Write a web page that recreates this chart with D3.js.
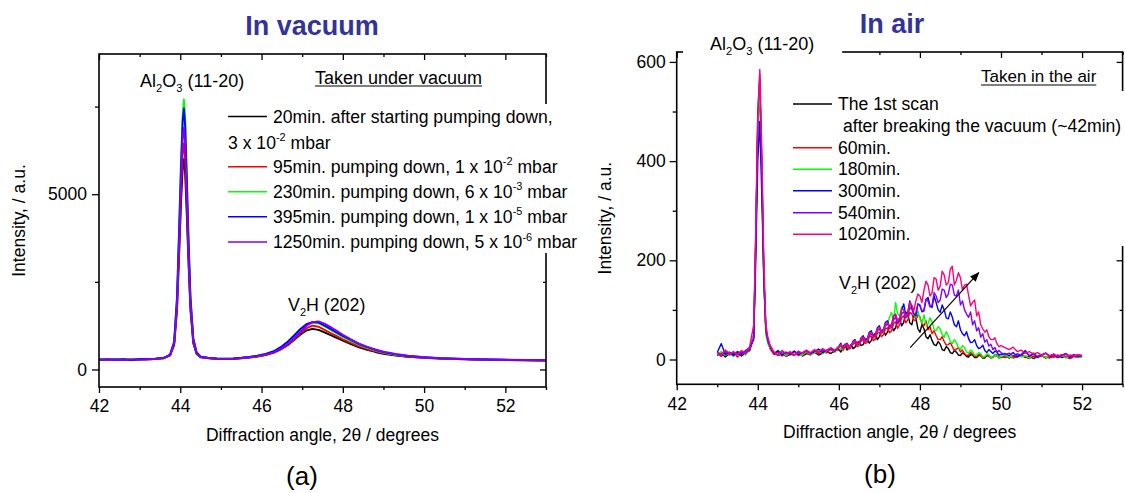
<!DOCTYPE html>
<html>
<head>
<meta charset="utf-8">
<script src="https://cdn.jsdelivr.net/npm/d3@7"></script>
<style>
  body { margin: 0; background: #fff; }
  svg text { font-family: "Liberation Sans", Arial, sans-serif; fill: #000; }
</style>
</head>
<body>
<div id="chart"></div>
<script>
// ---- (a) in vacuum: angle grid and intensities ----
const vacAngles = [42.0, 42.2, 42.4, 42.6, 42.8, 43.0, 43.2, 43.4, 43.6, 43.75,
  43.85, 43.92, 43.97, 44.02, 44.06, 44.09, 44.12, 44.16, 44.2, 44.25, 44.32,
  44.4, 44.5, 44.7, 44.9, 45.1, 45.3, 45.5, 45.7, 45.9,
  46.1, 46.3, 46.5, 46.65, 46.8, 46.95, 47.1, 47.25, 47.4, 47.55,
  47.7, 47.85, 48.0, 48.2, 48.4, 48.6, 48.8, 49.0, 49.3, 49.6,
  50.0, 50.4, 50.8, 51.2, 51.6, 52.0, 52.5, 53.0];
const vac20 = [290, 275, 285, 270, 280, 285, 290, 300, 320, 400,
  700, 1700, 3200, 4800, 5750, 6000, 5600, 4400, 3100, 1700, 750,
  450, 350, 320, 300, 295, 300, 320, 340, 370,
  410, 480, 590, 700, 840, 990, 1110, 1160, 1130, 1060,
  980, 900, 820, 720, 630, 560, 500, 450, 400, 360,
  330, 310, 295, 285, 275, 270, 262, 255];
const vac95 = [280, 290, 270, 285, 275, 290, 285, 305, 325, 410,
  740, 1800, 3450, 5150, 6200, 6450, 6000, 4700, 3300, 1800, 780,
  460, 355, 325, 305, 300, 305, 325, 345, 375,
  420, 490, 600, 710, 860, 1030, 1170, 1250, 1220, 1130,
  1040, 950, 860, 760, 660, 585, 520, 465, 410, 370,
  335, 312, 298, 288, 278, 272, 265, 258];
const vac230 = [285, 270, 295, 280, 290, 275, 295, 305, 330, 420,
  800, 2100, 4000, 6000, 7300, 7700, 7150, 5600, 3900, 2100, 900,
  500, 370, 330, 310, 305, 310, 330, 355, 390,
  440, 510, 640, 780, 950, 1130, 1270, 1340, 1320, 1230,
  1130, 1030, 930, 810, 700, 615, 545, 485, 420, 380,
  345, 318, 302, 290, 282, 275, 268, 260];
const vac395 = [275, 285, 280, 290, 270, 290, 300, 310, 335, 425,
  790, 2050, 3900, 5850, 7100, 7450, 6950, 5450, 3800, 2050, 880,
  490, 365, 330, 312, 305, 312, 333, 360, 395,
  445, 520, 660, 800, 970, 1150, 1290, 1350, 1340, 1260,
  1160, 1060, 960, 840, 725, 635, 560, 495, 430, 385,
  348, 320, 304, 292, 283, 276, 269, 262];
const vac1250 = [280, 280, 285, 275, 285, 280, 295, 305, 330, 415,
  760, 1900, 3650, 5450, 6600, 6900, 6450, 5050, 3550, 1950, 840,
  475, 360, 328, 308, 302, 308, 328, 350, 382,
  430, 490, 610, 730, 890, 1070, 1240, 1350, 1370, 1310,
  1210, 1100, 990, 860, 740, 645, 570, 505, 440, 390,
  350, 322, 305, 293, 284, 277, 270, 263];
const vacColors = ["#000000", "#ff0000", "#00ff00", "#0000ff", "#8000ff"];
const vacLabels = [
  [["20min. after starting pumping down,"]],
  [["95min. pumping down, 1 x 10"], ["-2", "sup"], [" mbar"]],
  [["230min. pumping down, 6 x 10"], ["-3", "sup"], [" mbar"]],
  [["395min. pumping down, 1 x 10"], ["-5", "sup"], [" mbar"]],
  [["1250min. pumping down, 5 x 10"], ["-6", "sup"], [" mbar"]]
];
const vacFirstExtra = [["3 x 10"], ["-2", "sup"], [" mbar"]];
const vacYMajor = [0, 5000];
const vacYMinor = [2500, 7500];

// ---- (b) in air ----
const airAngles = [43.0, 43.1, 43.2, 43.3, 43.4, 43.5, 43.6, 43.7, 43.8,
  43.9, 43.95, 44.0, 44.05, 44.1, 44.15, 44.2, 44.25, 44.3,
  44.4, 44.5, 44.6, 44.7, 44.8, 44.9, 45.0, 45.1, 45.2, 45.3, 45.4, 45.5, 45.6, 45.7, 45.8, 45.9,
  46.0, 46.05, 46.1, 46.15, 46.2, 46.25, 46.3, 46.35, 46.4, 46.45,
  46.5, 46.55, 46.6, 46.65, 46.7, 46.75, 46.8, 46.85, 46.9, 46.95,
  47.0, 47.05, 47.1, 47.15, 47.2, 47.25, 47.3, 47.35, 47.4, 47.45,
  47.5, 47.55, 47.6, 47.65, 47.7, 47.75, 47.8, 47.85, 47.9, 47.95,
  48.0, 48.05, 48.1, 48.15, 48.2, 48.25, 48.3, 48.35, 48.4, 48.45,
  48.5, 48.55, 48.6, 48.65, 48.7, 48.75, 48.8, 48.85, 48.9, 48.95,
  49.0, 49.05, 49.1, 49.15, 49.2, 49.25, 49.3, 49.35, 49.4, 49.45,
  49.5, 49.55, 49.6, 49.65, 49.7, 49.75, 49.8, 49.85, 49.9, 49.95, 50.0,
  50.1, 50.2, 50.3, 50.4, 50.5, 50.6, 50.7, 50.8, 50.9, 51.0,
  51.1, 51.2, 51.3, 51.4, 51.5, 51.6, 51.7, 51.8, 51.9, 52.0];
const air42 = [8, 14, 5, 12, 9, 15, 7, 13, 18,
  45, 230, 470, 565, 380, 170, 60, 38, 25,
  14, 8, 12, 6, 11, 9, 14, 7, 12, 10, 15, 9, 13, 17, 12, 18,
  20, 15, 26, 31, 19, 24, 30, 22, 25, 34, 36, 28, 30, 41, 42, 33, 38, 50, 52, 40,
  46, 58, 60, 49, 55, 68, 70, 58, 64, 80, 82, 68, 75, 96, 92, 74, 70, 88, 84, 62,
  55, 70, 62, 46, 42, 50, 38, 30, 28, 36, 31, 20, 18, 26, 22, 14, 12, 18, 15, 9,
  8, 13, 11, 6, 5, 10, 9, 4, 4, 8, 8, 3, 3, 8, 7, 4, 5, 9, 9, 5, 4,
  8, 3, 7, 5, 9, 4, 7, 2, 6, 8,
  3, 7, 5, 9, 4, 6, 3, 8, 5, 6];
const air60 = [12, 6, 15, 9, 13, 5, 11, 16, 20,
  50, 240, 460, 555, 370, 160, 55, 35, 22,
  10, 15, 7, 13, 9, 16, 8, 12, 14, 9, 16, 11, 18, 13, 20, 15,
  23, 29, 18, 25, 28, 21, 24, 31, 33, 26, 28, 37, 40, 32, 35, 45, 47, 38, 41, 53,
  55, 46, 50, 62, 64, 54, 58, 72, 76, 63, 70, 84, 88, 74, 80, 95, 92, 80, 78, 90,
  86, 72, 68, 78, 60, 66, 52, 58, 48, 40, 40, 46, 36, 29, 30, 34, 26, 18, 21, 24,
  15, 19, 12, 8, 9, 14, 11, 7, 6, 10, 9, 4, 5, 9, 8, 3, 4, 8, 7, 3, 5,
  4, 8, 3, 6, 9, 5, 2, 7, 4, 8,
  5, 3, 7, 4, 9, 5, 2, 6, 4, 7];
const air180 = [10, 16, 8, 14, 6, 12, 17, 9, 22,
  48, 235, 480, 550, 360, 150, 50, 32, 24,
  16, 9, 13, 7, 15, 10, 13, 8, 16, 11, 14, 19, 12, 17, 22, 16,
  26, 20, 21, 30, 31, 24, 25, 35, 37, 29, 30, 42, 45, 36, 38, 52, 55, 44, 47, 60,
  63, 52, 58, 70, 72, 85, 95, 78, 115, 92, 88, 106, 100, 84, 92, 108, 104, 90, 85, 98,
  82, 74, 90, 70, 72, 84, 76, 60, 58, 66, 62, 50, 45, 56, 48, 36, 32, 40, 34, 24,
  20, 28, 24, 15, 13, 19, 16, 8, 9, 14, 12, 5, 6, 11, 10, 4, 5, 9, 8, 3, 6,
  9, 4, 7, 12, 5, 8, 3, 14, 6, 9,
  4, 7, 11, 5, 8, 3, 7, 10, 4, 6];
const air300 = [14, 32, 10, 15, 8, 16, 11, 18, 24,
  40, 200, 400, 480, 330, 160, 60, 40, 28,
  12, 18, 9, 15, 11, 17, 10, 14, 18, 12, 16, 21, 14, 19, 23, 17,
  27, 33, 22, 29, 33, 26, 26, 37, 40, 31, 32, 44, 48, 39, 41, 55, 58, 46, 50, 64,
  68, 56, 60, 75, 78, 66, 70, 88, 90, 76, 82, 100, 112, 90, 95, 118, 105, 92, 88, 112,
  110, 96, 98, 120, 125, 108, 105, 128, 115, 100, 95, 110, 100, 84, 82, 96, 85, 70, 66, 78,
  60, 52, 48, 56, 42, 34, 35, 40, 28, 22, 24, 29, 18, 14, 20, 16, 12, 17, 15, 9, 10,
  12, 8, 14, 6, 10, 18, 7, 11, 5, 9,
  13, 6, 10, 4, 8, 12, 5, 9, 6, 8];
const air540 = [13, 8, 17, 11, 14, 9, 15, 12, 21,
  44, 250, 500, 575, 390, 170, 58, 36, 26,
  13, 9, 16, 11, 14, 8, 15, 12, 17, 13, 18, 14, 20, 16, 22, 18,
  25, 30, 22, 27, 30, 24, 27, 34, 36, 29, 32, 40, 43, 36, 39, 48, 52, 44, 47, 58,
  62, 53, 57, 68, 72, 62, 66, 80, 85, 72, 78, 92, 96, 84, 88, 104, 102, 90, 94, 112,
  108, 98, 100, 122, 118, 106, 110, 135, 128, 115, 120, 142, 140, 125, 132, 152, 150, 130, 128, 140,
  110, 118, 100, 92, 85, 96, 70, 78, 58, 64, 45, 52, 35, 40, 27, 31, 20, 24, 15, 18, 14,
  10, 13, 7, 11, 9, 14, 8, 12, 6, 10,
  13, 7, 11, 5, 9, 12, 6, 10, 7, 8];
const air1020 = [15, 10, 19, 12, 16, 11, 18, 14, 26,
  70, 260, 490, 585, 420, 200, 70, 45, 30,
  15, 10, 18, 12, 16, 9, 17, 13, 19, 14, 20, 15, 22, 17, 24, 19,
  26, 31, 22, 28, 32, 25, 27, 36, 38, 31, 33, 43, 45, 37, 40, 52, 55, 45, 49, 62,
  65, 54, 58, 72, 75, 64, 68, 88, 92, 78, 84, 102, 100, 88, 92, 115, 110, 98, 118, 132,
  128, 115, 140, 158, 150, 128, 135, 165, 162, 140, 148, 178, 170, 150, 155, 182, 188, 150, 160, 175,
  165, 140, 150, 152, 130, 108, 115, 120, 88, 96, 70, 62, 55, 60, 46, 40, 40, 44, 32, 26, 28,
  24, 20, 25, 16, 19, 13, 16, 11, 14, 9,
  12, 8, 11, 7, 10, 6, 9, 7, 10, 8];
const airColors = ["#000000", "#ff0000", "#00ff00", "#0000ff", "#8000ff", "#ff0080"];
const airLabels = ["The 1st scan", "60min.", "180min.", "300min.", "540min.", "1020min."];
const airYMajor = [0, 200, 400, 600];
const airYMinor = [100, 300, 500];

const xMajor = [42, 44, 46, 48, 50, 52];
const xMinor = [43, 45, 47, 49, 51, 53];

// ---- drawing ----
const svg = d3.select("#chart").append("svg")
  .attr("width", 1125)
  .attr("height", 493);

svg.append("defs").append("marker")
  .attr("id", "arrowhead")
  .attr("viewBox", "0 0 10 10")
  .attr("refX", 9).attr("refY", 5)
  .attr("markerWidth", 8).attr("markerHeight", 8)
  .attr("orient", "auto")
  .append("path")
  .attr("d", "M0,1 L10,5 L0,9 Z")
  .attr("fill", "#000");

// text with sub/superscript parts
function richText(g, x, y, parts, size) {
  const t = g.append("text").attr("x", x).attr("y", y).attr("font-size", size);
  let shift = 0;
  parts.forEach(([s, kind]) => {
    let target = 0;
    if (kind === "sup") target = -0.42 * size;
    if (kind === "sub") target = 0.3 * size;
    t.append("tspan")
      .attr("dy", target - shift)
      .attr("font-size", kind ? size * 0.62 : size)
      .text(s);
    shift = target;
  });
  return t;
}

function drawPanel(p) {
  const x = d3.scaleLinear().domain([42, 53]).range([p.left, p.right]);
  const y = d3.scaleLinear().domain(p.yDomain).range([p.bottom, p.top]);
  const g = svg.append("g");

  const line = d3.line()
    .defined(d => d[1] != null)
    .x(d => x(d[0])).y(d => y(d[1]));
  p.series.forEach((vals, i) => {
    g.append("path")
      .datum(p.angles.map((a, j) => [a, vals[j]]))
      .attr("d", line)
      .attr("fill", "none")
      .attr("stroke", p.colors[i])
      .attr("stroke-width", p.lw)
      .attr("stroke-linejoin", "round");
  });

  const axisStyle = sel => {
    sel.attr("font-size", 17.5).attr("font-family", "Liberation Sans, Arial, sans-serif");
    sel.select(".domain").remove();
    sel.selectAll("line").attr("stroke", "#000").attr("stroke-width", 1.3);
  };

  g.append("g").attr("transform", `translate(0,${p.bottom})`)
    .call(d3.axisBottom(x).tickValues(xMajor).tickSize(6).tickPadding(7).tickFormat(d3.format("d")))
    .call(axisStyle);
  g.append("g").attr("transform", `translate(0,${p.bottom})`)
    .call(d3.axisBottom(x).tickValues(xMinor).tickSize(3).tickFormat(""))
    .call(axisStyle);
  g.append("g").attr("transform", `translate(0,${p.top})`)
    .call(d3.axisTop(x).tickValues(xMajor).tickSize(-6).tickFormat(""))
    .call(axisStyle);
  g.append("g").attr("transform", `translate(0,${p.top})`)
    .call(d3.axisTop(x).tickValues(xMinor).tickSize(-3).tickFormat(""))
    .call(axisStyle);
  g.append("g").attr("transform", `translate(${p.left},0)`)
    .call(d3.axisLeft(y).tickValues(p.yMajor).tickSize(7).tickPadding(p.yPad).tickFormat(d3.format("d")))
    .call(axisStyle);
  g.append("g").attr("transform", `translate(${p.left},0)`)
    .call(d3.axisLeft(y).tickValues(p.yMinor).tickSize(4).tickFormat(""))
    .call(axisStyle);
  g.append("g").attr("transform", `translate(${p.right},0)`)
    .call(d3.axisRight(y).tickValues(p.yMajor).tickSize(-6).tickFormat(""))
    .call(axisStyle);
  g.append("g").attr("transform", `translate(${p.right},0)`)
    .call(d3.axisRight(y).tickValues(p.yMinor).tickSize(-3).tickFormat(""))
    .call(axisStyle);

  g.append("rect")
    .attr("x", p.left).attr("y", p.top)
    .attr("width", p.right - p.left).attr("height", p.bottom - p.top)
    .attr("fill", "none").attr("stroke", "#000").attr("stroke-width", 1.6);

  // axis titles
  g.append("text")
    .attr("x", (p.left + p.right) / 2).attr("y", p.bottom + 54)
    .attr("text-anchor", "middle").attr("font-size", 17.5)
    .text("Diffraction angle, 2\u03b8 / degrees");
  g.append("text")
    .attr("transform", `translate(${p.yTitleX},${(p.top + p.bottom) / 2}) rotate(-90)`)
    .attr("text-anchor", "middle").attr("font-size", 17.5)
    .text("Intensity, / a.u.");

  return { x, y, g };
}

// panel (a)
const pa = drawPanel({
  left: 99, top: 54, right: 546, bottom: 387,
  yDomain: [-500, 9000], yMajor: vacYMajor, yMinor: vacYMinor, yPad: 5,
  angles: vacAngles, series: [vac20, vac95, vac230, vac395, vac1250],
  colors: vacColors, lw: 1.9, yTitleX: 25
});

// panel (b)
const pb = drawPanel({
  left: 676.7, top: 52, right: 1122.6, bottom: 384.3,
  yDomain: [-50, 620], yMajor: airYMajor, yMinor: airYMinor, yPad: 4,
  angles: airAngles, series: [air42, air60, air180, air300, air540, air1020],
  colors: airColors, lw: 1.4, yTitleX: 611
});

// titles and panel letters
svg.append("text").attr("x", 312).attr("y", 35).attr("text-anchor", "middle")
  .attr("font-size", 27).attr("font-weight", "bold").style("fill", "#333399")
  .text("In vacuum");
svg.append("text").attr("x", 892).attr("y", 33).attr("text-anchor", "middle")
  .attr("font-size", 27).attr("font-weight", "bold").style("fill", "#333399")
  .text("In air");
svg.append("text").attr("x", 302).attr("y", 485).attr("text-anchor", "middle")
  .attr("font-size", 26).text("(a)");
svg.append("text").attr("x", 880).attr("y", 483).attr("text-anchor", "middle")
  .attr("font-size", 26).text("(b)");

// ---- annotations panel (a) ----
const ga = pa.g;
richText(ga, 140, 86.5, [["Al"], ["2", "sub"], ["O"], ["3", "sub"], [" (11-20)"]], 18);
richText(ga, 288, 311, [["V"], ["2", "sub"], ["H (202)"]], 17.8);

const takenA = ga.append("text").attr("x", 315).attr("y", 83.5).attr("font-size", 18)
  .text("Taken under vacuum");
const tA = takenA.node().getComputedTextLength();
ga.append("line").attr("x1", 315).attr("x2", 315 + tA).attr("y1", 86).attr("y2", 86)
  .attr("stroke", "#000").attr("stroke-width", 1.2);

// legend box hides the frame
ga.append("rect").attr("x", 222).attr("y", 104).attr("width", 365).attr("height", 149).attr("fill", "#fff");
const vacRows = [116.5, 166.7, 191.7, 216.7, 242];
vacLabels.forEach((parts, i) => {
  const cy = vacRows[i];
  ga.append("line").attr("x1", 228).attr("x2", 267).attr("y1", cy).attr("y2", cy)
    .attr("stroke", vacColors[i]).attr("stroke-width", 1.4);
  richText(ga, 273, cy + 6, parts, 17.6);
});
richText(ga, 228, 142.7 + 6, vacFirstExtra, 17.6);

// ---- annotations panel (b) ----
const gb = pb.g;
const alB = richText(gb, 710, 50, [["Al"], ["2", "sub"], ["O"], ["3", "sub"], [" (11-20)"]], 18);
const bb = alB.node().getBBox();
gb.insert("rect", () => alB.node())
  .attr("x", bb.x - 27).attr("y", 38).attr("width", bb.width + 55).attr("height", 22)
  .attr("fill", "#fff");
richText(gb, 839, 289, [["V"], ["2", "sub"], ["H (202)"]], 17.8);

const takenB = gb.append("text").attr("x", 981).attr("y", 82).attr("font-size", 17)
  .text("Taken in the air");
const tB = takenB.node().getComputedTextLength();
gb.append("line").attr("x1", 981).attr("x2", 981 + tB).attr("y1", 85).attr("y2", 85)
  .attr("stroke", "#000").attr("stroke-width", 1.2);

gb.append("rect").attr("x", 787).attr("y", 91).attr("width", 338).attr("height", 155).attr("fill", "#fff");
const airRows = [104, 147.7, 169.3, 190.7, 212.7, 234.3];
airLabels.forEach((lab, i) => {
  const cy = airRows[i];
  gb.append("line").attr("x1", 793).attr("x2", 832).attr("y1", cy).attr("y2", cy)
    .attr("stroke", airColors[i]).attr("stroke-width", 1.4);
  gb.append("text").attr("x", 838).attr("y", cy + 6).attr("font-size", 17.6).text(lab);
});
gb.append("text").attr("x", 843).attr("y", 131.5).attr("font-size", 17.6)
  .text("after breaking the vacuum (~42min)");

// arrow across the V2H peaks
const arrowFrom = [47.76, 24];
const arrowTo = [49.45, 175];
gb.append("line")
  .attr("x1", pb.x(arrowFrom[0])).attr("y1", pb.y(arrowFrom[1]))
  .attr("x2", pb.x(arrowTo[0])).attr("y2", pb.y(arrowTo[1]))
  .attr("stroke", "#000").attr("stroke-width", 1.2)
  .attr("marker-end", "url(#arrowhead)");
</script>
</body>
</html>
